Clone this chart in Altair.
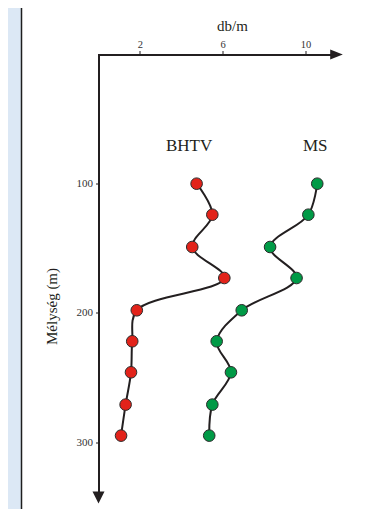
import altair as alt
import pandas as pd

# ---- data ----
depth = [100, 124, 149, 173, 198, 222, 246, 271, 295]
bhtv = [4.74, 5.50, 4.53, 6.08, 1.85, 1.63, 1.57, 1.31, 1.09]
ms = [10.57, 10.14, 8.29, 9.57, 6.92, 5.71, 6.40, 5.50, 5.35]
series = ["BHTV", "MS"]
x_ticks = [2, 6, 10]
y_ticks = [100, 200, 300]
label_x = [4.38, 10.47]
label_depth = [71, 71]
x_end = 11.5
y_end = 342.9

FONT = "Liberation Serif"
INK = "#231f20"
RED = "#e2231a"
GREEN = "#009a46"

rows = []
for s, vals in zip(series, [bhtv, ms]):
    for d, v in zip(depth, vals):
        rows.append({"series": s, "depth": d, "value": v})
df = pd.DataFrame(rows)

labels = pd.DataFrame({"series": series, "value": label_x, "depth": label_depth})

W, H = 238, 443

xs = alt.Scale(domain=[0, x_end], nice=False, zero=False)
ys = alt.Scale(domain=[0, y_end], nice=False, zero=False, reverse=True)
color = alt.Scale(domain=series, range=[RED, GREEN])

xaxis = alt.Axis(
    orient="top", values=x_ticks, title="db/m", grid=False,
    titleFont=FONT, titleFontSize=15, titleFontWeight="normal", titleColor=INK,
    titleX=133.5, titleY=-29.5, titleAlign="center", titleBaseline="middle",
    labelFont=FONT, labelFontSize=10.5, labelColor="#333333", labelPadding=1,
    tickSize=4, tickColor=INK, tickWidth=1,
    domainColor=INK, domainWidth=2, domainCap="square",
)
yaxis = alt.Axis(
    orient="left", values=y_ticks, title="Mélység (m)", grid=False,
    titleFont=FONT, titleFontSize=15, titleFontWeight="normal", titleColor=INK,
    titleX=-47.5, titleY=251.5, titleAlign="center", titleBaseline="middle",
    labelFont=FONT, labelFontSize=11, labelColor="#333333", labelPadding=3,
    tickSize=3, tickColor=INK, tickWidth=1,
    domainColor=INK, domainWidth=2, domainCap="square",
)


def X(field="value"):
    return alt.X(f"{field}:Q", scale=xs, axis=xaxis, title="db/m")


def Y(field="depth"):
    return alt.Y(f"{field}:Q", scale=ys, axis=yaxis, title="Mélység (m)")


base = alt.Chart(df)

lines = base.mark_line(interpolate="catmull-rom", color=INK, strokeWidth=2).encode(
    x=X(), y=Y(), detail="series:N", order="depth:Q",
)

points = base.mark_point(filled=True, shape="circle", size=135, stroke="#2a2a2a",
                         strokeWidth=1, opacity=1).encode(
    x=X(), y=Y(), fill=alt.Fill("series:N", scale=color, legend=None),
)

text = alt.Chart(labels).mark_text(font=FONT, fontSize=17, color=INK,
                                   align="center", baseline="middle").encode(
    x=X(), y=Y(), text="series:N",
)

arrow_x = alt.Chart(pd.DataFrame({"value": [x_end], "depth": [0]})).mark_point(
    shape="M-1,-0.8L1,0L-1,0.8Z", size=159, filled=True, fill=INK, opacity=1, strokeWidth=0
).encode(x=X(), y=Y())

arrow_y = alt.Chart(pd.DataFrame({"value": [0], "depth": [y_end]})).mark_point(
    shape="M-1,-1L1,-1L0,1Z", size=144, filled=True, fill=INK, opacity=1, strokeWidth=0
).encode(x=X(), y=Y())

one = pd.DataFrame({"a": [0]})
strip = alt.Chart(one).mark_rect(color="#dce8f5").encode(
    x=alt.value(-90.5), x2=alt.value(-77.5), y=alt.value(-46.5), y2=alt.value(H + 12)
)
border = alt.Chart(one).mark_rule(color="#1e1e1e", strokeWidth=1.5).encode(
    x=alt.value(-77), y=alt.value(-46.5), y2=alt.value(H + 12)
)

chart = alt.layer(strip, border, lines, points, text, arrow_x, arrow_y).properties(
    width=W, height=H,
    autosize=alt.AutoSizeParams(type="none"),
    padding={"left": 90.5, "top": 46.5, "right": 20, "bottom": 11},
    background="white",
).configure_view(stroke=None)

chart.save("out.html", embed_options={"renderer": "svg", "actions": False})
